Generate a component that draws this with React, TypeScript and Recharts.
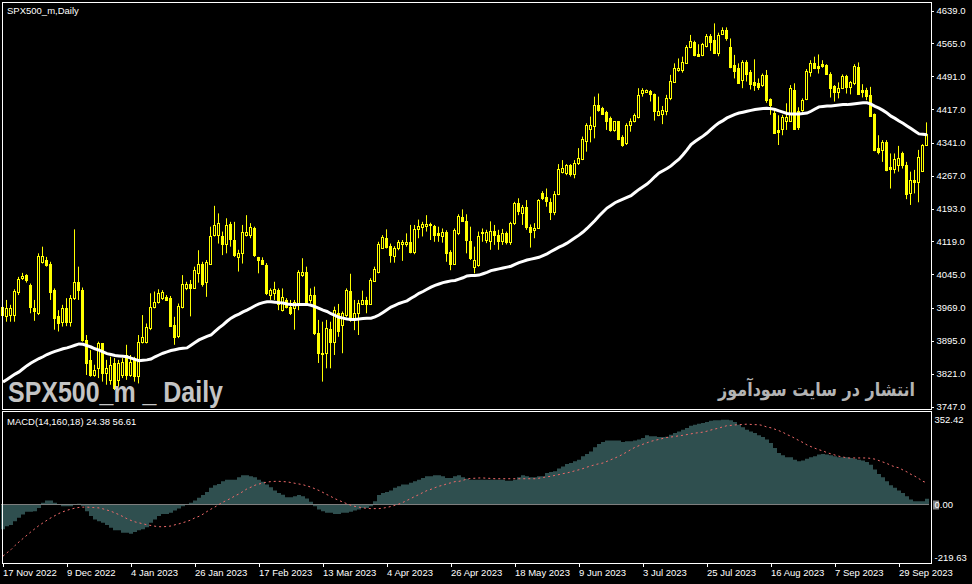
import React from "react";
import { ComposedChart, Bar, Line, XAxis, YAxis, ReferenceLine } from "recharts";

// daily candles (232 bars)
const opens = [
  3953, 3950, 3953, 3953, 4006, 4036, 4043, 4021, 3970, 3957,
  4073, 4077, 4069, 4010, 3950, 3938, 3968, 3938, 3991, 4028,
  4010, 3897, 3852, 3818, 3833, 3889, 3822, 3807, 3844, 3807,
  3818, 3863, 3818, 3852, 3816, 3893, 3893, 3923, 3972, 3983,
  3991, 3994, 3991, 3931, 3906, 3972, 4015, 4024, 4015, 4047,
  4069, 4028, 4069, 4133, 4133, 4130, 4114, 4158, 4122, 4084,
  4092, 4133, 4133, 4148, 4083, 4077, 4066, 3998, 4002, 4009,
  3964, 3987, 3972, 3968, 3979, 4043, 4049, 3987, 3998, 3912,
  3867, 3867, 3921, 3893, 3958, 3931, 3953, 4008, 3946, 3957,
  3979, 3987, 3979, 4030, 4051, 4105, 4126, 4108, 4086, 4105,
  4114, 4113, 4118, 4094, 4146, 4152, 4154, 4156, 4154, 4137,
  4131, 4141, 4096, 4069, 4137, 4174, 4165, 4120, 4062, 4066,
  4137, 4122, 4120, 4142, 4133, 4120, 4137, 4117, 4160, 4205,
  4182, 4197, 4152, 4145, 4150, 4229, 4220, 4208, 4184, 4225,
  4275, 4272, 4290, 4270, 4295, 4304, 4345, 4372, 4379, 4426,
  4420, 4411, 4396, 4370, 4389, 4355, 4340, 4380, 4390, 4400,
  4454, 4456, 4458, 4451, 4404, 4406, 4413, 4441, 4478, 4505,
  4505, 4521, 4556, 4569, 4542, 4539, 4559, 4581, 4572, 4544,
  4587, 4596, 4557, 4516, 4509, 4482, 4524, 4501, 4478, 4475,
  4471, 4494, 4439, 4409, 4370, 4371, 4391, 4391, 4460, 4413,
  4415, 4440, 4501, 4520, 4515, 4518, 4516, 4497, 4469, 4455,
  4465, 4492, 4467, 4475, 4512, 4460, 4460, 4449, 4405, 4330,
  4325, 4343, 4287, 4283, 4292, 4319, 4291, 4227, 4257, 4253,
  4277, 4337,
];
const highs = [
  3991, 3987, 3976, 4011, 4039, 4048, 4045, 4024, 3987, 4092,
  4107, 4084, 4073, 4013, 3964, 3976, 3991, 3998, 4146, 4062,
  4015, 3908, 3874, 3841, 3893, 3889, 3852, 3859, 3856, 3852,
  3856, 3886, 3863, 3859, 3908, 3953, 3934, 4002, 4006, 4011,
  4009, 3998, 3996, 3949, 3979, 4043, 4028, 4032, 4062, 4099,
  4073, 4077, 4152, 4199, 4182, 4141, 4171, 4163, 4163, 4100,
  4156, 4178, 4160, 4152, 4084, 4083, 4070, 4013, 4028, 4013,
  4013, 3991, 3987, 3987, 4054, 4081, 4062, 4013, 4017, 3942,
  3938, 3942, 3938, 3972, 3978, 3961, 4013, 4046, 3987, 3987,
  4008, 3994, 4036, 4062, 4118, 4133, 4146, 4114, 4108, 4122,
  4122, 4137, 4156, 4156, 4168, 4163, 4178, 4161, 4156, 4152,
  4148, 4144, 4099, 4148, 4180, 4191, 4180, 4152, 4107, 4141,
  4148, 4145, 4164, 4156, 4145, 4147, 4141, 4163, 4208, 4216,
  4201, 4212, 4157, 4160, 4214, 4232, 4238, 4216, 4232, 4293,
  4302, 4293, 4293, 4302, 4329, 4355, 4385, 4400, 4445, 4452,
  4422, 4413, 4400, 4390, 4390, 4358, 4385, 4396, 4407, 4464,
  4464, 4461, 4460, 4452, 4445, 4424, 4449, 4494, 4520, 4531,
  4535, 4561, 4584, 4571, 4563, 4566, 4586, 4586, 4610, 4589,
  4601, 4601, 4576, 4539, 4520, 4527, 4527, 4505, 4529, 4486,
  4497, 4505, 4441, 4415, 4403, 4404, 4430, 4471, 4475, 4421,
  4441, 4507, 4527, 4535, 4540, 4527, 4518, 4500, 4471, 4477,
  4495, 4494, 4480, 4518, 4522, 4473, 4465, 4467, 4407, 4358,
  4347, 4347, 4317, 4317, 4334, 4321, 4298, 4276, 4280, 4325,
  4338, 4387,
];
const lows = [
  3908, 3938, 3938, 3938, 3998, 4032, 4026, 3957, 3940, 3953,
  4069, 4062, 3987, 3920, 3916, 3927, 3928, 3927, 3987, 3987,
  3893, 3818, 3814, 3814, 3811, 3803, 3796, 3796, 3784, 3792,
  3811, 3807, 3814, 3803, 3799, 3889, 3889, 3919, 3968, 3979,
  3987, 3987, 3927, 3886, 3901, 3968, 4009, 3950, 4013, 4026,
  4017, 3994, 4066, 4130, 4114, 4088, 4092, 4107, 4084, 4051,
  4069, 4130, 4126, 4084, 4047, 4066, 3998, 3987, 3987, 3964,
  3961, 3968, 3953, 3920, 3964, 4039, 3976, 3979, 3908, 3845,
  3803, 3833, 3833, 3863, 3904, 3867, 3949, 3938, 3919, 3908,
  3976, 3957, 3976, 4028, 4047, 4103, 4103, 4071, 4071, 4099,
  4075, 4107, 4092, 4090, 4126, 4130, 4141, 4122, 4118, 4118,
  4116, 4073, 4054, 4066, 4133, 4163, 4092, 4077, 4047, 4062,
  4118, 4115, 4100, 4111, 4100, 4111, 4112, 4111, 4156, 4178,
  4156, 4145, 4105, 4126, 4147, 4212, 4197, 4167, 4178, 4223,
  4272, 4268, 4265, 4261, 4291, 4302, 4321, 4342, 4351, 4411,
  4404, 4370, 4366, 4366, 4347, 4332, 4336, 4366, 4387, 4396,
  4445, 4454, 4434, 4391, 4401, 4383, 4403, 4437, 4476, 4501,
  4499, 4520, 4554, 4536, 4535, 4536, 4556, 4548, 4542, 4536,
  4584, 4571, 4509, 4486, 4475, 4464, 4479, 4461, 4458, 4460,
  4467, 4431, 4404, 4362, 4336, 4358, 4370, 4389, 4370, 4370,
  4411, 4437, 4490, 4507, 4497, 4510, 4494, 4443, 4434, 4441,
  4462, 4452, 4450, 4471, 4449, 4443, 4437, 4400, 4322, 4315,
  4298, 4277, 4238, 4272, 4276, 4283, 4214, 4201, 4227, 4207,
  4276, 4335,
];
const closes = [
  3972, 3968, 3968, 4008, 4034, 4041, 4032, 3970, 3961, 4086,
  4086, 4066, 4006, 3946, 3936, 3970, 3938, 3991, 4028, 4010,
  3897, 3845, 3818, 3829, 3889, 3822, 3833, 3841, 3788, 3846,
  3848, 3818, 3848, 3816, 3893, 3904, 3927, 3972, 3983, 4002,
  4004, 3988, 3928, 3904, 3974, 4023, 4024, 4013, 4054, 4069,
  4024, 4073, 4131, 4156, 4161, 4114, 4156, 4124, 4088, 4092,
  4141, 4141, 4152, 4088, 4077, 4068, 4002, 4009, 4011, 3979,
  3994, 3972, 3958, 3983, 4051, 4051, 3979, 3998, 3912, 3867,
  3865, 3923, 3893, 3964, 3916, 3957, 4009, 3942, 3958, 3981,
  3987, 3979, 4032, 4056, 4114, 4128, 4107, 4088, 4105, 4118,
  4118, 4118, 4096, 4146, 4153, 4159, 4159, 4158, 4133, 4133,
  4141, 4092, 4068, 4144, 4176, 4165, 4122, 4081, 4077, 4130,
  4141, 4141, 4142, 4133, 4120, 4137, 4118, 4160, 4205, 4188,
  4197, 4152, 4141, 4148, 4212, 4217, 4210, 4184, 4225, 4283,
  4285, 4290, 4270, 4295, 4307, 4350, 4380, 4381, 4426, 4415,
  4405, 4390, 4370, 4389, 4350, 4335, 4381, 4390, 4403, 4449,
  4460, 4459, 4451, 4413, 4413, 4416, 4443, 4481, 4509, 4509,
  4524, 4557, 4571, 4539, 4537, 4563, 4581, 4569, 4544, 4584,
  4596, 4576, 4512, 4503, 4476, 4524, 4497, 4473, 4471, 4467,
  4494, 4437, 4426, 4364, 4366, 4398, 4400, 4464, 4371, 4376,
  4437, 4503, 4520, 4510, 4510, 4515, 4497, 4465, 4455, 4465,
  4492, 4467, 4477, 4515, 4452, 4456, 4447, 4402, 4325, 4320,
  4343, 4280, 4282, 4304, 4306, 4291, 4225, 4257, 4253, 4310,
  4336, 4360,
];
// white moving average
const maValues = [
  3802, 3808, 3814, 3820, 3825, 3832, 3839, 3845, 3850, 3855,
  3859, 3864, 3868, 3871, 3874, 3877, 3879, 3882, 3885, 3888,
  3887, 3884, 3881, 3877, 3874, 3870, 3866, 3864, 3862, 3861,
  3860, 3859, 3856, 3853, 3850, 3851, 3852, 3854, 3859, 3863,
  3867, 3870, 3873, 3875, 3877, 3878, 3879, 3885, 3891, 3897,
  3901, 3905, 3908, 3916, 3924, 3931, 3939, 3946, 3951, 3955,
  3960, 3964, 3969, 3974, 3978, 3981, 3983, 3983, 3982, 3981,
  3980, 3978, 3977, 3976, 3977, 3977, 3977, 3975, 3972, 3968,
  3964, 3961, 3956, 3952, 3948, 3946, 3944, 3943, 3943, 3944,
  3945, 3946, 3946, 3949, 3953, 3959, 3965, 3971, 3975, 3979,
  3982, 3985, 3991, 3996, 4002, 4006, 4011, 4016, 4020, 4023,
  4026, 4028, 4030, 4031, 4034, 4037, 4041, 4042, 4042, 4043,
  4046, 4049, 4053, 4055, 4057, 4059, 4061, 4063, 4067, 4071,
  4074, 4077, 4079, 4081, 4083, 4087, 4091, 4096, 4101, 4106,
  4110, 4115, 4121, 4127, 4133, 4140, 4148, 4157, 4166, 4176,
  4185, 4194, 4200, 4206, 4210, 4214, 4218, 4222, 4229, 4236,
  4242, 4248, 4256, 4265, 4273, 4278, 4283, 4289, 4297, 4304,
  4314, 4325, 4337, 4344, 4350, 4356, 4363, 4371, 4379, 4386,
  4391, 4397, 4401, 4405, 4408, 4410, 4412, 4414, 4416, 4417,
  4418, 4419, 4418, 4416, 4413, 4410, 4407, 4406, 4406, 4406,
  4407, 4408, 4412, 4417, 4422, 4423, 4424, 4424, 4425, 4426,
  4427, 4427, 4428, 4429, 4430, 4431, 4431, 4428, 4423, 4419,
  4414, 4408, 4401, 4396, 4390, 4385, 4379, 4373, 4367, 4361,
  4360, 4359,
];
// MACD histogram
const macdValues = [
  -103, -90, -85, -69, -55, -41, -30, -30, -28, -14,
  7, 17, 17, 7, 0, -7, -7, -7, 0, 3,
  -7, -28, -48, -62, -69, -76, -85, -96, -107, -107,
  -117, -117, -121, -114, -107, -103, -94, -76, -62, -48,
  -39, -39, -34, -25, -17, -7, 0, 7, 17, 28,
  39, 52, 69, 80, 85, 96, 103, 103, 103, 113,
  121, 121, 117, 113, 103, 94, 83, 72, 58, 48,
  41, 30, 30, 34, 39, 34, 25, 11, -7, -21,
  -28, -34, -34, -39, -39, -34, -34, -30, -25, -21,
  -14, -14, -7, 14, 39, 48, 52, 58, 69, 76,
  83, 83, 90, 96, 103, 110, 117, 117, 121, 121,
  117, 110, 110, 117, 121, 113, 107, 103, 103, 103,
  103, 103, 103, 103, 103, 103, 99, 99, 103, 113,
  121, 117, 113, 113, 117, 117, 131, 135, 138, 149,
  158, 168, 172, 179, 186, 200, 209, 220, 237, 251,
  259, 265, 265, 265, 265, 259, 262, 262, 265, 269,
  276, 287, 283, 283, 280, 280, 281, 289, 296, 303,
  310, 317, 327, 331, 335, 338, 342, 347, 349, 349,
  352, 352, 349, 342, 331, 320, 310, 303, 296, 287,
  280, 269, 255, 234, 214, 204, 196, 196, 186, 179,
  182, 190, 196, 200, 207, 209, 207, 204, 200, 196,
  196, 196, 193, 190, 186, 182, 176, 165, 145, 127,
  113, 96, 80, 69, 58, 48, 34, 21, 14, 14,
  14, 24,
];
// MACD signal (dotted)
const signalValues = [
  -214, -200, -187, -170, -155, -141, -127, -113, -100, -87,
  -76, -65, -55, -46, -37, -30, -24, -19, -15, -12,
  -11, -11, -12, -13, -14, -18, -23, -28, -35, -42,
  -50, -59, -66, -72, -76, -80, -84, -87, -90, -92,
  -92, -91, -89, -84, -80, -75, -70, -64, -55, -49,
  -40, -29, -19, -10, 0, 10, 18, 26, 36, 44,
  54, 65, 72, 80, 85, 89, 93, 95, 96, 96,
  95, 94, 91, 88, 85, 82, 77, 72, 65, 58,
  50, 41, 33, 24, 17, 10, 3, -3, -8, -11,
  -14, -16, -17, -17, -17, -15, -12, -8, -3, 2,
  9, 17, 25, 34, 41, 50, 58, 63, 70, 76,
  80, 86, 90, 95, 96, 100, 106, 108, 109, 110,
  110, 109, 108, 107, 107, 107, 107, 107, 107, 107,
  107, 107, 107, 107, 109, 112, 115, 117, 121, 124,
  128, 131, 135, 140, 144, 149, 155, 160, 165, 169,
  172, 179, 186, 193, 200, 209, 218, 228, 237, 244,
  250, 256, 262, 266, 270, 274, 278, 280, 282, 285,
  287, 290, 293, 296, 298, 300, 304, 309, 313, 317,
  322, 327, 328, 330, 331, 332, 333, 332, 331, 331,
  327, 321, 318, 312, 306, 299, 290, 283, 274, 265,
  257, 247, 240, 233, 227, 222, 215, 210, 205, 200,
  197, 193, 193, 193, 193, 193, 193, 191, 188, 182,
  176, 170, 162, 156, 152, 143, 135, 125, 117, 107,
  96, 90,
];

const priceTicks = [3747, 3821, 3895, 3969, 4045, 4119, 4193, 4267, 4341, 4417, 4491, 4565, 4639];
const macdTicks = [-219.63, 0, 352.42];
const dateTickBars = [0, 16, 32, 48, 64, 80, 96, 112, 128, 144, 160, 176, 192, 208, 224];
const dateTickLabels = [
  "17 Nov 2022", "9 Dec 2022", "4 Jan 2023", "26 Jan 2023", "17 Feb 2023",
  "13 Mar 2023", "4 Apr 2023", "26 Apr 2023", "18 May 2023", "9 Jun 2023",
  "3 Jul 2023", "25 Jul 2023", "16 Aug 2023", "7 Sep 2023", "29 Sep 2023",
];

const rows = opens.map((o, i) => ({
  i,
  open: o,
  high: highs[i],
  low: lows[i],
  close: closes[i],
  ma: maValues[i],
  macd: macdValues[i],
  signal: signalValues[i],
}));

const YELLOW = "#ffff00";
const FONT = "'Liberation Sans', Arial, sans-serif";

const Candle = (props: any) => {
  const { x, y, width, height, payload } = props;
  if (!payload) return null;
  const top = Math.min(y, y + height);
  const h = Math.abs(height);
  const { open, high, low, close } = payload;
  const span = high - low || 1;
  const py = (p: number) => top + ((high - p) / span) * h;
  const cx = Math.floor(x + width / 2) - 0.5;
  const bull = close >= open;
  const bTop = Math.round(py(Math.max(open, close))) + 0.5;
  const bBot = Math.round(py(Math.min(open, close))) + 0.5;
  return (
    <g>
      <line x1={cx} x2={cx} y1={py(high)} y2={py(low)} stroke={YELLOW} strokeWidth={1} />
      <rect
        x={cx - 1}
        y={bTop}
        width={2}
        height={Math.max(bBot - bTop, 0)}
        fill={bull ? "#000" : YELLOW}
        stroke={YELLOW}
        strokeWidth={1}
      />
    </g>
  );
};

const PriceTick = ({ y, payload }: any) => (
  <g>
    <line x1={931} x2={934} y1={Math.round(y) + 0.5} y2={Math.round(y) + 0.5} stroke="#fff" />
    <text x={936.5} y={y + 3.5} fill="#fff" fontSize={9.5} fontFamily={FONT}>
      {Number(payload.value).toFixed(1)}
    </text>
  </g>
);

const MacdTick = ({ y, payload }: any) => {
  const v = Number(payload.value);
  return (
    <g>
      {v === 0 && <rect x={933} y={y - 4} width={6} height={9} fill="#808080" />}
      <text x={934.5} y={y + 3.5} fill="#fff" fontSize={9.5} fontFamily={FONT}>
        {v.toFixed(2)}
      </text>
    </g>
  );
};

const DateTick = ({ x, payload }: any) => {
  const k = dateTickBars.indexOf(payload.value);
  const tx = Math.round(x) + 0.5;
  return (
    <g>
      <line x1={tx} x2={tx} y1={152} y2={156} stroke="#fff" />
      <text x={x} y={164.5} fill="#fff" fontSize={9.5} fontFamily={FONT}>
        {k >= 0 ? dateTickLabels[k] : ""}
      </text>
    </g>
  );
};

const App = () => {
  return (
    <div
      style={{
        position: "absolute",
        left: 0,
        top: 0,
        width: 972,
        height: 584,
        background: "#000",
        overflow: "hidden",
      }}
    >
      <div style={{ position: "absolute", left: 0, top: 0 }}>
        <ComposedChart
          width={972}
          height={414}
          data={rows}
          margin={{ top: 10.5, right: 0, bottom: 7.5, left: 1 }}
          barCategoryGap={0}
          barGap={0}
        >
          <XAxis dataKey="i" hide />
          <YAxis
            orientation="right"
            width={43}
            domain={[3747, 4639]}
            ticks={priceTicks}
            allowDataOverflow
            axisLine={false}
            tickLine={false}
            tick={PriceTick}
            interval={0}
          />
          <Bar
            dataKey={(d: any) => [d.low, d.high]}
            shape={Candle}
            isAnimationActive={false}
          />
          <Line
            dataKey="ma"
            type="linear"
            stroke="#ffffff"
            strokeWidth={3}
            dot={false}
            activeDot={false}
            isAnimationActive={false}
          />
        </ComposedChart>
      </div>

      <div style={{ position: "absolute", left: 0, top: 411 }}>
        <ComposedChart
          width={972}
          height={173}
          data={rows}
          margin={{ top: 8.5, right: 0, bottom: 0, left: 1 }}
          barCategoryGap={0}
          barGap={0}
        >
          <XAxis
            dataKey="i"
            ticks={dateTickBars}
            interval={0}
            height={26.5}
            axisLine={false}
            tickLine={false}
            tick={DateTick}
          />
          <YAxis
            orientation="right"
            width={43}
            domain={[-219.63, 352.42]}
            ticks={macdTicks}
            allowDataOverflow
            axisLine={false}
            tickLine={false}
            tick={MacdTick}
            interval={0}
          />
          <Bar dataKey="macd" fill="#2f4f4f" isAnimationActive={false} />
          <ReferenceLine y={0} stroke="#808080" strokeWidth={1} />
          <Line
            dataKey="signal"
            type="linear"
            stroke="#ee6a6a"
            strokeWidth={1}
            strokeDasharray="2 3"
            dot={false}
            activeDot={false}
            isAnimationActive={false}
          />
        </ComposedChart>
      </div>

      {/* panel frames */}
      <div
        style={{
          position: "absolute",
          left: 2,
          top: 2,
          width: 930,
          height: 408,
          border: "1px solid #fff",
          boxSizing: "border-box",
          pointerEvents: "none",
        }}
      />
      <div
        style={{
          position: "absolute",
          left: 2,
          top: 411,
          width: 930,
          height: 153,
          border: "1px solid #fff",
          boxSizing: "border-box",
          pointerEvents: "none",
        }}
      />

      <svg
        width={972}
        height={584}
        style={{ position: "absolute", left: 0, top: 0, pointerEvents: "none" }}
      >
        <text x={7} y={14} fill="#fff" fontSize={9.5} fontFamily={FONT}>
          SPX500_m,Daily
        </text>
        <text x={7} y={424.5} fill="#fff" fontSize={9.5} fontFamily={FONT}>
          MACD(14,160,18) 24.38 56.61
        </text>
        <text
          x={8}
          y={401.5}
          fill="#c4c4c4"
          fontSize={30}
          fontWeight="bold"
          fontFamily={FONT}
          textLength={215}
          lengthAdjust="spacingAndGlyphs"
        >
          SPX500_m _ Daily
        </text>
        <text
          x={718}
          y={396}
          fill="#b4b4b4"
          fontSize={19}
          fontWeight="bold"
          fontFamily="'DejaVu Sans', sans-serif"
          textLength={197}
          lengthAdjust="spacingAndGlyphs"
        >
          انتشار در سایت سودآموز
        </text>
      </svg>
    </div>
  );
};

export default App;
